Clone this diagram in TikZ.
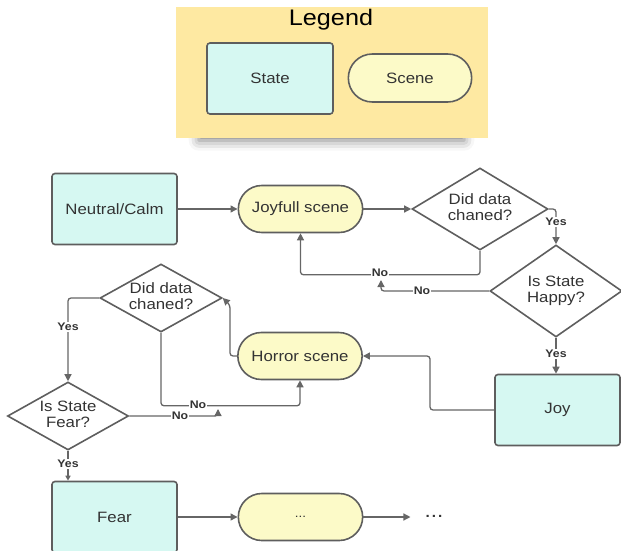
\documentclass[tikz,border=0pt]{standalone}
\usepackage{fontspec}
\setmainfont{Liberation Sans}[FakeStretch=1.12]
\usetikzlibrary{shapes.geometric,shapes.misc,arrows.meta,shadows.blur}

\definecolor{statefill}{HTML}{D6F8F2}
\definecolor{scenefill}{HTML}{FCFAC8}
\definecolor{legendfill}{HTML}{FEE9A2}
\definecolor{edgegray}{HTML}{5E5E5E}
\definecolor{linegray}{HTML}{666666}
\definecolor{darktext}{HTML}{333333}

\tikzset{
  body/.style={font=\fontsize{15}{16}\selectfont, text=darktext},
  stat/.style={body, draw=edgegray, fill=statefill, line width=1.6pt,
    rounded corners=3pt, minimum width=125pt, minimum height=71pt},
  scene/.style={body, rounded rectangle, draw=edgegray, fill=scenefill,
    line width=1.6pt, minimum width=131pt, minimum height=47pt},
  decision/.style={body, diamond, draw=edgegray, fill=white, line width=1.6pt,
    inner sep=0pt},
  conn/.style={draw=linegray, line width=1.3pt, rounded corners=3pt,
    -{Triangle[length=7pt,width=7pt]}},
  lbl/.style={fill=white, inner sep=1pt, text=darktext,
    font=\bfseries\fontsize{11}{12}\selectfont},
}
% two-line question text that does not widen the diamond
\newcommand{\qtext}[2]{\makebox[0pt][c]{\begin{tabular}{@{}c@{}}#1\\#2\end{tabular}}}

\begin{document}
\begin{tikzpicture}[x=1pt,y=-1pt]
\useasboundingbox (0,0) rectangle (621,551);

% ---- legend ----
\node[fill=legendfill, minimum width=312pt, minimum height=130pt,
  blur shadow={shadow xshift=0pt, shadow yshift=-15pt, shadow scale=0.85,
  shadow blur radius=12pt, shadow opacity=50}] (legend) at (331.5,72.5) {};
\node[text=black, font=\fontsize{22.5}{23}\selectfont] (legendtitle) at (331,20) {Legend};
\node[stat, minimum width=126pt, minimum height=71pt] (lstate) at (270,78.5) {State};
\node[scene, minimum width=130pt, minimum height=48pt] (lscene) at (410,78) {Scene};

% ---- states and scenes ----
\node[stat]  (neutral)  at (114.5,209) {Neutral/Calm};
\node[scene] (joyscene) at (300.5,209) {Joyfull scene};
\node[stat]  (joybox)   at (557.5,410) {Joy};
\node[scene] (horror)   at (300,356)   {Horror scene};
\node[stat]  (fearbox)  at (114.5,517) {Fear};
\node[scene] (dots)     at (300.5,517) {\fontsize{12}{12}\selectfont ...};
\node[text=darktext, font=\fontsize{20}{20}\selectfont, inner sep=0pt] (more) at (434,516) {...};

% ---- decisions ----
\node[decision, minimum width=136pt, minimum height=82pt] (d1)    at (480,209) {\qtext{Did data}{chaned?}};
\node[decision, minimum width=132pt, minimum height=92pt] (happy) at (556,291) {\qtext{Is State}{Happy?}};
\node[decision, minimum width=122pt, minimum height=68pt] (d2)    at (161,298) {\qtext{Did data}{chaned?}};
\node[decision, minimum width=121pt, minimum height=68pt] (fearq) at (68,416)  {\qtext{Is State}{Fear?}};

% ---- free ends and bends ----
\coordinate (joinA) at (381,280);
\coordinate (joinB) at (218,409);
\coordinate (bendJ) at (430,410);
\coordinate (bendH) at (230,305);

% ---- connectors ----
\draw[conn] (neutral.east) -- (joyscene.west);
\draw[conn] (joyscene.east) -- (d1.west);
\draw[conn] (d1.east) -| (happy.north);
\draw[conn] (d1.south) -- ++(0,24) -| (joyscene.south);
\draw[conn] (happy.west) -| (joinA);
\draw[conn] (happy.south) -- (happy.south |- joybox.north);
\draw[conn] (joybox.west) -- (bendJ) |- (horror.east);
\draw[conn] (horror.west) -| (bendH) -- (d2.east);
\draw[conn] (d2.west) -| (fearq.north);
\draw[conn] (d2.south) -- ++(0,73) -| (horror.south);
\draw[conn] (fearq.east) -| (joinB);
\draw[conn, -{Triangle[length=5pt,width=5pt]}] (fearq.south) -- (fearq.south |- fearbox.north);
\draw[conn] (fearbox.east) -- (dots.west);
\draw[conn] (dots.east) -- ++(47,0);

% ---- connector labels ----
\node[lbl] (yes1) at (556,222) {Yes};
\node[lbl] (no1)  at (380,273) {No};
\node[lbl] (no2)  at (422,291) {No};
\node[lbl] (yes2) at (556,354) {Yes};
\node[lbl] (yes3) at (68,327)  {Yes};
\node[lbl] (no3)  at (198,405) {No};
\node[lbl] (no4)  at (180,416) {No};
\node[lbl] (yes4) at (68,464)  {Yes};
\end{tikzpicture}
\end{document}
